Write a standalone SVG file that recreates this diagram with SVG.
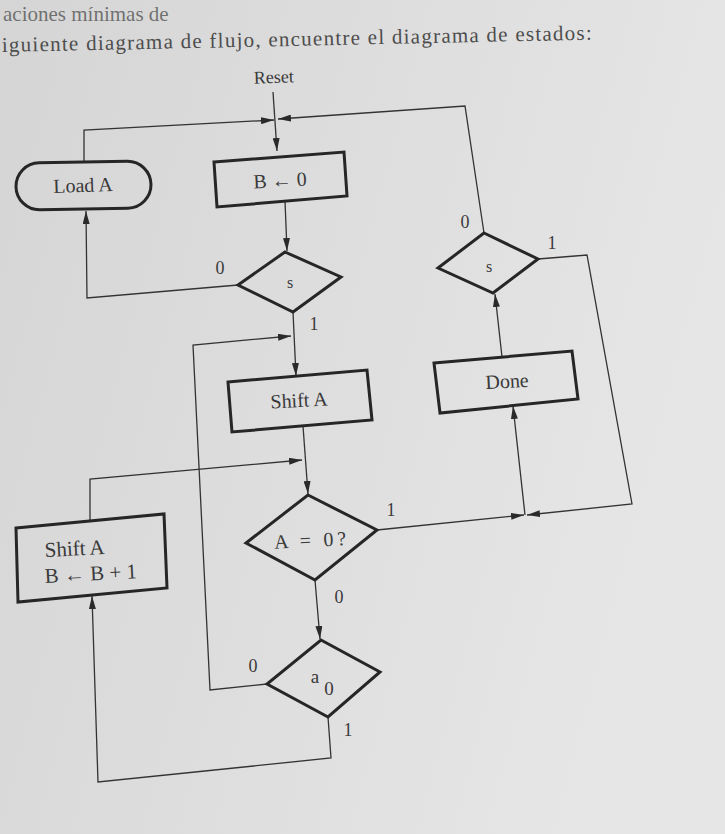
<svg xmlns="http://www.w3.org/2000/svg" width="725" height="834" viewBox="0 0 725 834" font-family="'Liberation Serif', 'DejaVu Serif', 'Times New Roman', serif">
<defs>
<linearGradient id="paper" x1="0" y1="0" x2="1" y2="0.3">
<stop offset="0" stop-color="#d5d5d5"/>
<stop offset="0.6" stop-color="#dfdfdf"/>
<stop offset="1" stop-color="#e6e6e6"/>
</linearGradient>
<marker id="arr" markerUnits="userSpaceOnUse" markerWidth="13" markerHeight="7" refX="13" refY="3.5" orient="auto">
<path d="M0,0 L13,3.5 L0,7 z" fill="#2a2a2a"/>
</marker>
<style>
.box{fill:none;stroke:#262626;stroke-width:3;stroke-linejoin:miter}
.ln{fill:none;stroke:#333;stroke-width:1.3}
.ar{marker-end:url(#arr)}
.t{fill:#3a3a3a;text-anchor:middle}
.hd{fill:#4d4d4d;font-size:21px}
.lb{font-size:18px}
.nd{font-size:20px}
</style>
</defs>
<rect x="0" y="0" width="725" height="834" fill="url(#paper)"/>
<text class="hd" x="3" y="21" font-size="17" fill-opacity="0.75">aciones mínimas de</text>
<text class="hd" x="2" y="52" transform="rotate(-1.2 2 52)" textLength="590" lengthAdjust="spacing">iguiente diagrama de flujo, encuentre el diagrama de estados:</text>
<g id="connectors">
<polyline class="ln ar" points="273,92 277,151"/>
<polyline class="ln ar" points="84,161 84,130 274,120"/>
<polyline class="ln ar" points="484,233 465,106 278,119"/>
<polyline class="ln ar" points="285,201 287,251"/>
<polyline class="ln ar" points="238,285 87,298 86,211"/>
<polyline class="ln ar" points="293,312 296,376"/>
<polyline class="ln ar" points="267,684 210,690 193,345 291,336"/>
<polyline class="ln ar" points="303,426 308,494"/>
<polyline class="ln ar" points="90,520 90,479 302,460"/>
<polyline class="ln ar" points="315,580 320,639"/>
<polyline class="ln ar" points="328,717 331,758 98,782 92,596"/>
<polyline class="ln ar" points="377,530 524,515"/>
<polyline class="ln ar" points="538,259 587,255 632,504 527,515"/>
<polyline class="ln ar" points="525,515 513,406"/>
<polyline class="ln ar" points="502,357 495,294"/>
<g class="t lb">
<text x="274" y="83" transform="rotate(-2 274 83)">Reset</text>
<text x="220" y="274">0</text>
<text x="314" y="330">1</text>
<text x="465" y="228">0</text>
<text x="552" y="249">1</text>
<text x="391" y="516">1</text>
<text x="339" y="603">0</text>
<text x="253" y="672">0</text>
<text x="348" y="736">1</text>
</g>
</g>
<g id="load-a">
<rect class="box" x="16" y="162" width="135" height="47" rx="23.5" transform="rotate(-1 83 186)"/>
<text class="t nd" x="83" y="192" transform="rotate(-2 83 186)">Load A</text>
</g>
<g id="b-zero">
<polygon class="box" points="214,162 344,152 347,196 217,207"/>
<text class="t nd" x="280" y="187" transform="rotate(-3 280 180)">B ← 0</text>
</g>
<g id="s-left">
<polygon class="box" points="285,252 341,277 293,312 238,285"/>
<text class="t" font-size="16" x="290" y="288">s</text>
</g>
<g id="s-right">
<polygon class="box" points="484,233 538,259 493,293 438,268"/>
<text class="t" font-size="16" x="489" y="272">s</text>
</g>
<g id="shift-a">
<polygon class="box" points="228,382 367,370 372,420 232,432"/>
<text class="t nd" x="299" y="407" transform="rotate(-3 299 400)">Shift A</text>
</g>
<g id="done">
<polygon class="box" points="434,363 572,351 578,399 440,413"/>
<text class="t nd" x="507" y="388" transform="rotate(-3 507 381)">Done</text>
</g>
<g id="a-zero">
<polygon class="box" points="308,495 377,530 315,580 246,543"/>
<text class="t nd" x="310" y="547" transform="rotate(-3 310 540)" textLength="72" lengthAdjust="spacing">A = 0?</text>
</g>
<g id="a0">
<polygon class="box" points="321,640 380,672 328,717 267,684"/>
<text class="t" font-size="19" x="315" y="683">a</text>
<text class="t" font-size="19" x="329" y="695">0</text>
</g>
<g id="shift-a-inc">
<polygon class="box" points="16,528 164,514 167,588 18,602"/>
<text class="t" font-size="21" style="text-anchor:start" x="45" y="557" transform="rotate(-3 45 557)">Shift A</text>
<text class="t" font-size="21" style="text-anchor:start" x="45" y="583" transform="rotate(-3 45 583)">B ← B + 1</text>
</g>
</svg>
